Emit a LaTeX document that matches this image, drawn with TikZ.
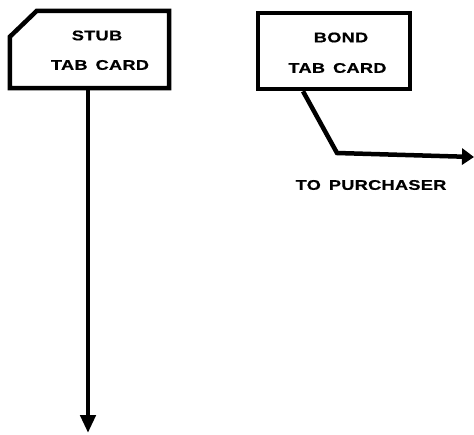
\documentclass[tikz,border=0pt]{standalone}
\usepackage{fontspec}
\usetikzlibrary{arrows.meta}
\newfontfamily\lbl{Liberation Sans Bold}[FakeStretch=1.3,LetterSpace=2,WordSpace=1.5,FakeBold=0.7]
\begin{document}
\begin{tikzpicture}[x=1pt,y=-1pt,
  card/.style={line width=4.5pt, line join=miter},
  txt/.style={font=\lbl\fontsize{14}{14}\selectfont, inner sep=0pt},
  flow/.style={line width=4.5pt, -{Triangle[length=18pt,width=15pt]}},
  flowb/.style={line width=4.5pt, -{Triangle[length=12pt,width=16pt]}}]
\useasboundingbox (0,0) rectangle (474,434);
% stub tab card
\node[minimum width=159pt, minimum height=77pt, inner sep=0pt] (stub) at (89.5,49.5) {};
\draw[card] ([xshift=27pt]stub.north west) -- (stub.north east) -- (stub.south east)
  -- (stub.south west) -- ([yshift=-26pt]stub.north west) -- cycle;
\node[txt] (stubA) at (97,35.5) {STUB};
\node[txt] (stubB) at (100,65) {TAB CARD};
% bond tab card
\node[card, draw, minimum width=152pt, minimum height=76pt, inner sep=0pt] (bond) at (334,51) {};
\node[txt] (bondA) at (341,37.5) {BOND};
\node[txt] (bondB) at (337.5,68) {TAB CARD};
\node[txt] (purch) at (371,185) {TO PURCHASER};
% connectors
\coordinate (sEnd) at (88,433);
\draw[flow] (stub.south -| sEnd) -- (sEnd);
\coordinate (bBend) at (337,153);
\coordinate (bEnd) at (474,157);
\draw[flowb] ([xshift=-31pt]bond.south) -- (bBend) -- (bEnd);
\end{tikzpicture}
\end{document}
